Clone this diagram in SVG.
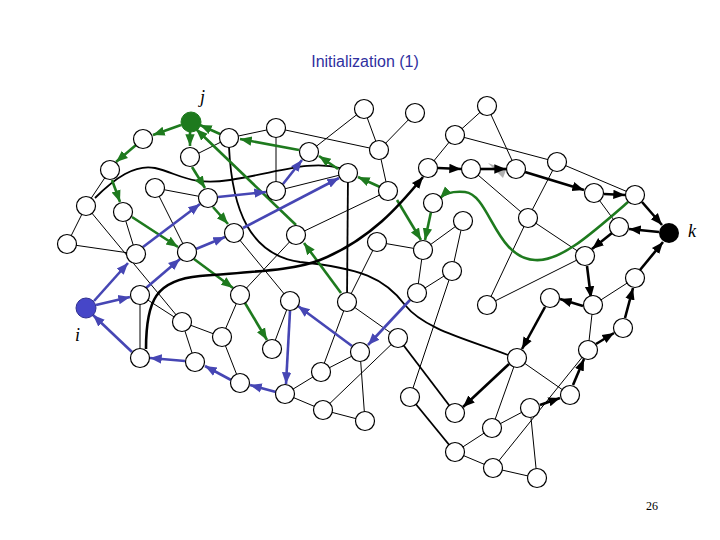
<svg xmlns="http://www.w3.org/2000/svg" width="720" height="540" viewBox="0 0 720 540">
<style>
.n{fill:#fff;stroke:#000;stroke-width:1.2}
.t{stroke:#000;stroke-width:1;fill:none}
.m{stroke:#000;stroke-width:1.8;fill:none}
.g{stroke:#1e7a1e;stroke-width:2.6;fill:none;marker-end:url(#ag)}
.b{stroke:#4646b4;stroke-width:2.6;fill:none;marker-end:url(#ab)}
.k{stroke:#000;stroke-width:2.6;fill:none;marker-end:url(#ak)}
.lb{font-family:'Liberation Serif',serif;font-style:italic;font-size:18px}
</style>
<defs>
<marker id="ag" viewBox="0 0 10 10" refX="10" refY="5" markerWidth="4.5" markerHeight="4.5" orient="auto" markerUnits="strokeWidth"><path d="M0,1L10,5L0,9z" fill="#1e7a1e"/></marker>
<marker id="ab" viewBox="0 0 10 10" refX="10" refY="5" markerWidth="4.5" markerHeight="4.5" orient="auto" markerUnits="strokeWidth"><path d="M0,1L10,5L0,9z" fill="#4646b4"/></marker>
<marker id="ak" viewBox="0 0 10 10" refX="10" refY="5" markerWidth="4.5" markerHeight="4.5" orient="auto" markerUnits="strokeWidth"><path d="M0,1L10,5L0,9z" fill="#000"/></marker>
</defs>
<text x="365" y="67" text-anchor="middle" font-family="'Liberation Sans',sans-serif" font-size="16" fill="#3030a0">Initialization (1)</text>
<g id="connectors">
<g>
<line class="t" x1="191" y1="157" x2="229" y2="138"/><line class="t" x1="229" y1="138" x2="276" y2="128"/>
<line class="t" x1="276" y1="128" x2="276" y2="191"/><line class="t" x1="276" y1="128" x2="379" y2="150"/>
<line class="t" x1="309" y1="152" x2="364" y2="109"/><line class="t" x1="364" y1="109" x2="379" y2="150"/>
<line class="t" x1="415" y1="113" x2="379" y2="150"/><line class="t" x1="379" y1="150" x2="388" y2="191"/>
<line class="t" x1="276" y1="191" x2="348" y2="173"/><line class="t" x1="296" y1="235" x2="388" y2="191"/>
<line class="t" x1="455" y1="135" x2="428" y2="168"/><line class="t" x1="455" y1="135" x2="487" y2="106"/>
<line class="t" x1="487" y1="106" x2="516" y2="169"/><line class="t" x1="455" y1="135" x2="557" y2="162"/>
<line class="t" x1="557" y1="162" x2="635" y2="195"/><line class="t" x1="557" y1="162" x2="528" y2="218"/>
<line class="t" x1="471" y1="169" x2="528" y2="218"/><line class="t" x1="528" y1="218" x2="585" y2="256"/>
<line class="t" x1="528" y1="218" x2="487" y2="305"/><line class="t" x1="487" y1="305" x2="585" y2="256"/>
<line class="t" x1="594" y1="193" x2="619" y2="227"/>
<line class="t" x1="463" y1="221" x2="423" y2="250"/><line class="t" x1="423" y1="250" x2="377" y2="242"/>
<line class="t" x1="463" y1="221" x2="452" y2="271"/><line class="t" x1="423" y1="250" x2="417" y2="293"/>
<line class="t" x1="452" y1="271" x2="417" y2="293"/><line class="t" x1="452" y1="271" x2="410" y2="397"/>
<line class="t" x1="377" y1="242" x2="347" y2="302"/><line class="t" x1="347" y1="302" x2="398" y2="338"/>
<line class="t" x1="360" y1="352" x2="365" y2="421"/><line class="t" x1="398" y1="338" x2="323" y2="410"/>
<line class="t" x1="360" y1="352" x2="321" y2="372"/><line class="t" x1="321" y1="372" x2="285" y2="394"/>
<line class="t" x1="321" y1="372" x2="347" y2="302"/><line class="t" x1="323" y1="410" x2="365" y2="421"/>
<line class="t" x1="285" y1="394" x2="323" y2="410"/>
<line class="t" x1="240" y1="295" x2="296" y2="235"/><line class="t" x1="234" y1="233" x2="290" y2="301"/>
<line class="t" x1="290" y1="301" x2="272" y2="349"/><line class="t" x1="182" y1="322" x2="222" y2="337"/>
<line class="t" x1="182" y1="322" x2="195" y2="362"/><line class="t" x1="222" y1="337" x2="240" y2="383"/>
<line class="t" x1="222" y1="337" x2="240" y2="295"/><line class="t" x1="140" y1="295" x2="182" y2="322"/>
<line class="t" x1="140" y1="295" x2="140" y2="358"/><line class="t" x1="110" y1="170" x2="86" y2="206"/>
<line class="t" x1="86" y1="206" x2="67" y2="244"/><line class="t" x1="86" y1="206" x2="182" y2="322"/>
<line class="t" x1="67" y1="244" x2="136" y2="254"/><line class="t" x1="123" y1="212" x2="136" y2="254"/>
<line class="t" x1="155" y1="188" x2="208" y2="198"/><line class="t" x1="155" y1="188" x2="187" y2="252"/>
<line class="m" x1="398" y1="338" x2="455" y2="413"/><line class="m" x1="410" y1="397" x2="455" y2="452"/>
<line class="t" x1="455" y1="452" x2="492" y2="428"/><line class="t" x1="455" y1="452" x2="493" y2="468"/>
<line class="t" x1="493" y1="468" x2="537" y2="478"/><line class="t" x1="492" y1="428" x2="530" y2="408"/>
<line class="t" x1="492" y1="428" x2="517" y2="358"/><line class="t" x1="530" y1="408" x2="537" y2="478"/>
<line class="t" x1="493" y1="468" x2="588" y2="350"/><line class="t" x1="517" y1="358" x2="570" y2="395"/>
<line class="t" x1="588" y1="350" x2="593" y2="305"/><line class="t" x1="593" y1="305" x2="635" y2="278"/>
<line class="m" x1="348" y1="173" x2="347" y2="302"/>
<path class="m" d="M95,198 C115,178 135,164 155,168 C180,174 190,186 230,180 C280,172 310,160 340,168"/>
<path class="m" d="M229,147 C232,210 250,255 300,262 C360,268 385,278 405,305 C425,330 470,340 508,355"/>
</g>
<g>
<line class="g" x1="181" y1="125" x2="153" y2="135"/><line class="g" x1="190" y1="131" x2="190" y2="146"/>
<line class="g" x1="220" y1="134" x2="200" y2="125"/><line class="g" x1="296" y1="225" x2="196" y2="129"/>
<line class="g" x1="299" y1="150" x2="240" y2="139"/><line class="g" x1="338" y1="169" x2="319" y2="156"/>
<line class="g" x1="136" y1="145" x2="116" y2="162"/><line class="g" x1="112" y1="180" x2="120" y2="202"/>
<line class="g" x1="192" y1="167" x2="205" y2="188"/><line class="g" x1="213" y1="207" x2="228" y2="224"/>
<line class="g" x1="132" y1="217" x2="178" y2="247"/><line class="g" x1="194" y1="259" x2="233" y2="288"/>
<line class="g" x1="245" y1="303" x2="267" y2="340"/><line class="g" x1="341" y1="293" x2="304" y2="243"/>
<line class="g" x1="380" y1="187" x2="358" y2="177"/><line class="g" x1="397" y1="200" x2="421" y2="240"/>
<line class="g" x1="431" y1="212" x2="425" y2="240"/>
<path class="g" d="M628,202 C590,235 560,262 535,260 C495,258 490,195 465,192 C452,191 444,194 440,198"/>
<line class="b" x1="94" y1="301" x2="128" y2="263"/><line class="b" x1="96" y1="305" x2="130" y2="297"/>
<line class="b" x1="132" y1="352" x2="93" y2="315"/><line class="b" x1="143" y1="247" x2="200" y2="204"/>
<line class="b" x1="146" y1="288" x2="180" y2="259"/><line class="b" x1="196" y1="249" x2="225" y2="237"/>
<line class="b" x1="218" y1="197" x2="266" y2="192"/><line class="b" x1="283" y1="184" x2="302" y2="160"/>
<line class="b" x1="243" y1="228" x2="339" y2="178"/><line class="b" x1="185" y1="361" x2="150" y2="358"/>
<line class="b" x1="231" y1="380" x2="205" y2="366"/><line class="b" x1="276" y1="392" x2="250" y2="385"/>
<line class="b" x1="290" y1="311" x2="286" y2="384"/><line class="b" x1="352" y1="346" x2="298" y2="306"/>
<line class="b" x1="410" y1="300" x2="368" y2="345"/>
<path class="k" d="M146,349 C146,300 156,280 200,276 C260,271 295,270 320,260 C370,240 400,205 423,177"/>
<polygon points="488,163 506,170 503,178" fill="#b0b0b0"/>
<line class="k" x1="438" y1="168" x2="461" y2="169"/><line class="k" x1="481" y1="169" x2="506" y2="169"/>
<line class="k" x1="525" y1="172" x2="584" y2="190"/><line class="k" x1="604" y1="194" x2="625" y2="195"/>
<line class="k" x1="642" y1="202" x2="662" y2="225"/><line class="k" x1="659" y1="232" x2="629" y2="229"/>
<line class="k" x1="612" y1="233" x2="592" y2="249"/><line class="k" x1="587" y1="266" x2="591" y2="298"/>
<line class="k" x1="583" y1="306" x2="560" y2="299"/><line class="k" x1="545" y1="307" x2="522" y2="349"/>
<line class="k" x1="509" y1="364" x2="463" y2="407"/><line class="k" x1="540" y1="405" x2="560" y2="398"/>
<line class="k" x1="573" y1="385" x2="584" y2="359"/><line class="k" x1="596" y1="344" x2="614" y2="333"/>
<line class="k" x1="625" y1="318" x2="633" y2="288"/><line class="k" x1="640" y1="270" x2="663" y2="242"/>
</g>
</g>
<g id="nodes">
<circle id="j" cx="191" cy="122" r="10" fill="#1e7a1e" stroke="#1e7a1e"/>
<circle id="k" cx="669" cy="233" r="10" fill="#000"/>
<circle id="i" cx="86" cy="308" r="10" fill="#4646c8" stroke="#303090"/>
<g id="n1"><circle class="n" cx="143" cy="139" r="9.5"/></g><g id="n2"><circle class="n" cx="190" cy="157" r="9.5"/></g>
<g id="n3"><circle class="n" cx="229" cy="138" r="9.5"/></g><g id="n4"><circle class="n" cx="276" cy="128" r="9.5"/></g>
<g id="n5"><circle class="n" cx="309" cy="152" r="9.5"/></g><g id="n6"><circle class="n" cx="348" cy="173" r="9.5"/></g>
<g id="n7"><circle class="n" cx="364" cy="109" r="9.5"/></g><g id="n8"><circle class="n" cx="415" cy="113" r="9.5"/></g>
<g id="n9"><circle class="n" cx="379" cy="150" r="9.5"/></g><g id="n10"><circle class="n" cx="487" cy="106" r="9.5"/></g>
<g id="n11"><circle class="n" cx="455" cy="135" r="9.5"/></g><g id="n12"><circle class="n" cx="428" cy="168" r="9.5"/></g>
<g id="n13"><circle class="n" cx="471" cy="169" r="9.5"/></g><g id="n14"><circle class="n" cx="516" cy="169" r="9.5"/></g>
<g id="n15"><circle class="n" cx="557" cy="162" r="9.5"/></g><g id="n16"><circle class="n" cx="594" cy="193" r="9.5"/></g>
<g id="n17"><circle class="n" cx="635" cy="195" r="9.5"/></g><g id="n18"><circle class="n" cx="619" cy="227" r="9.5"/></g>
<g id="n19"><circle class="n" cx="585" cy="256" r="9.5"/></g><g id="n20"><circle class="n" cx="528" cy="218" r="9.5"/></g>
<g id="n21"><circle class="n" cx="433" cy="203" r="9.5"/></g><g id="n22"><circle class="n" cx="463" cy="221" r="9.5"/></g>
<g id="n23"><circle class="n" cx="423" cy="250" r="9.5"/></g><g id="n24"><circle class="n" cx="452" cy="271" r="9.5"/></g>
<g id="n25"><circle class="n" cx="377" cy="242" r="9.5"/></g><g id="n26"><circle class="n" cx="388" cy="191" r="9.5"/></g>
<g id="n27"><circle class="n" cx="487" cy="305" r="9.5"/></g><g id="n28"><circle class="n" cx="550" cy="298" r="9.5"/></g>
<g id="n29"><circle class="n" cx="635" cy="278" r="9.5"/></g><g id="n30"><circle class="n" cx="593" cy="305" r="9.5"/></g>
<g id="n31"><circle class="n" cx="623" cy="328" r="9.5"/></g><g id="n32"><circle class="n" cx="588" cy="350" r="9.5"/></g>
<g id="n33"><circle class="n" cx="570" cy="395" r="9.5"/></g><g id="n34"><circle class="n" cx="530" cy="408" r="9.5"/></g>
<g id="n35"><circle class="n" cx="517" cy="358" r="9.5"/></g><g id="n36"><circle class="n" cx="455" cy="413" r="9.5"/></g>
<g id="n37"><circle class="n" cx="410" cy="397" r="9.5"/></g><g id="n38"><circle class="n" cx="492" cy="428" r="9.5"/></g>
<g id="n39"><circle class="n" cx="455" cy="452" r="9.5"/></g><g id="n40"><circle class="n" cx="493" cy="468" r="9.5"/></g>
<g id="n41"><circle class="n" cx="537" cy="478" r="9.5"/></g><g id="n42"><circle class="n" cx="417" cy="293" r="9.5"/></g>
<g id="n43"><circle class="n" cx="360" cy="352" r="9.5"/></g><g id="n44"><circle class="n" cx="398" cy="338" r="9.5"/></g>
<g id="n45"><circle class="n" cx="347" cy="302" r="9.5"/></g><g id="n46"><circle class="n" cx="321" cy="372" r="9.5"/></g>
<g id="n47"><circle class="n" cx="323" cy="410" r="9.5"/></g><g id="n48"><circle class="n" cx="365" cy="421" r="9.5"/></g>
<g id="n49"><circle class="n" cx="285" cy="394" r="9.5"/></g><g id="n50"><circle class="n" cx="290" cy="301" r="9.5"/></g>
<g id="n51"><circle class="n" cx="272" cy="349" r="9.5"/></g><g id="n52"><circle class="n" cx="240" cy="383" r="9.5"/></g>
<g id="n53"><circle class="n" cx="222" cy="337" r="9.5"/></g><g id="n54"><circle class="n" cx="195" cy="362" r="9.5"/></g>
<g id="n55"><circle class="n" cx="182" cy="322" r="9.5"/></g><g id="n56"><circle class="n" cx="140" cy="358" r="9.5"/></g>
<g id="n57"><circle class="n" cx="140" cy="295" r="9.5"/></g><g id="n58"><circle class="n" cx="240" cy="295" r="9.5"/></g>
<g id="n59"><circle class="n" cx="136" cy="254" r="9.5"/></g><g id="n60"><circle class="n" cx="67" cy="244" r="9.5"/></g>
<g id="n61"><circle class="n" cx="86" cy="206" r="9.5"/></g><g id="n62"><circle class="n" cx="123" cy="212" r="9.5"/></g>
<g id="n63"><circle class="n" cx="110" cy="170" r="9.5"/></g><g id="n64"><circle class="n" cx="155" cy="188" r="9.5"/></g>
<g id="n65"><circle class="n" cx="208" cy="198" r="9.5"/></g><g id="n66"><circle class="n" cx="234" cy="233" r="9.5"/></g>
<g id="n67"><circle class="n" cx="296" cy="235" r="9.5"/></g><g id="n68"><circle class="n" cx="276" cy="191" r="9.5"/></g>
<g id="n69"><circle class="n" cx="187" cy="252" r="9.5"/></g>
</g>
<text class="lb" x="200" y="103">j</text>
<text class="lb" x="688" y="237">k</text>
<text class="lb" x="75" y="341">i</text>
<text x="652" y="510" text-anchor="middle" font-family="'Liberation Serif',serif" font-size="12">26</text>
</svg>
